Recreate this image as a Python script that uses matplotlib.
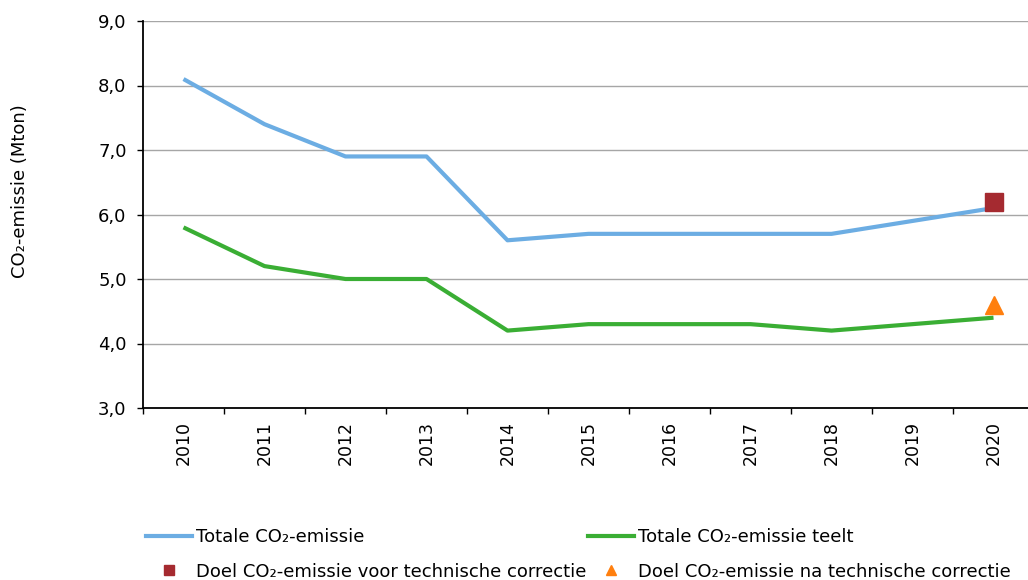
import matplotlib.pyplot as plt
from matplotlib.lines import Line2D

years = ['2010', '2011', '2012', '2013', '2014', '2015', '2016', '2017', '2018', '2019', '2020']
totaal = [8.1, 7.4, 6.9, 6.9, 5.6, 5.7, 5.7, 5.7, 5.7, 5.9, 6.1]
teelt = [5.8, 5.2, 5.0, 5.0, 4.2, 4.3, 4.3, 4.3, 4.2, 4.3, 4.4]
doel_voor = 6.2
doel_na = 4.6

BLUE = '#6CADE3'
GREEN = '#3AAE34'
RED = '#A52A30'
ORANGE = '#FF7F0E'

plt.rcParams['font.family'] = ['DejaVu Sans']

fig = plt.figure(figsize=(10.28, 5.8), dpi=100)
# axes runs slightly past the right edge like the original
ax = fig.add_axes([143 / 1028, 1 - 408 / 580, (1034 - 143) / 1028, (408 - 21) / 580])

x = list(range(len(years)))
ax.plot(x, totaal, color=BLUE, lw=3, solid_capstyle='butt', zorder=3)
ax.plot(x, teelt, color=GREEN, lw=3, solid_capstyle='butt', zorder=3)
ax.plot([x[-1]], [doel_voor], marker='s', ms=12.5, color=RED, ls='none', zorder=4)
ax.plot([x[-1]], [doel_na], marker='^', ms=12.5, color=ORANGE, ls='none', zorder=4)

ax.set_xlim(-0.5, len(years) - 0.5)
ax.set_ylim(3.0, 9.0)
ax.set_yticks([3, 4, 5, 6, 7, 8, 9])
ax.set_yticklabels([f'{v:.1f}'.replace('.', ',') for v in range(3, 10)], fontsize=13)
ax.set_xticks(x)
ax.set_xticklabels(years, rotation=90, fontsize=12.5)
ax.set_xticks([i - 0.5 for i in range(len(years) + 1)], minor=True)
ax.tick_params(axis='x', which='major', length=0, pad=9.5)
ax.tick_params(axis='x', which='minor', length=4, width=1)
ax.tick_params(axis='y', length=4.3, width=1, pad=7.5)

ax.grid(axis='y', color='#A6A6A6', lw=1)
ax.set_axisbelow(True)
for s in ['top', 'right']:
    ax.spines[s].set_visible(False)
ax.spines['left'].set_linewidth(1.3)
ax.spines['bottom'].set_linewidth(1.3)

fig.text(20 / 1028, 1 - 191 / 580, 'CO₂-emissie (Mton)', rotation=90, fontsize=13,
         ha='center', va='center')

leg_kw = dict(loc='upper left', frameon=False, fontsize=13, handlelength=2.55,
              handletextpad=0.22, labelspacing=0.92, borderaxespad=0, borderpad=0)

h1 = [Line2D([], [], color=BLUE, lw=3), Line2D([], [], marker='s', color=RED, ms=7, ls='none')]
l1 = ['Totale CO₂-emissie', 'Doel CO₂-emissie voor technische correctie']
fig.legend(h1, l1, bbox_to_anchor=(146 / 1028, 1 - 528 / 580), **leg_kw)

h2 = [Line2D([], [], color=GREEN, lw=3), Line2D([], [], marker='^', color=ORANGE, ms=7, ls='none')]
l2 = ['Totale CO₂-emissie teelt', 'Doel CO₂-emissie na technische correctie']
fig.legend(h2, l2, bbox_to_anchor=(588 / 1028, 1 - 528 / 580), **leg_kw)

fig.savefig('out.png', dpi=100)
